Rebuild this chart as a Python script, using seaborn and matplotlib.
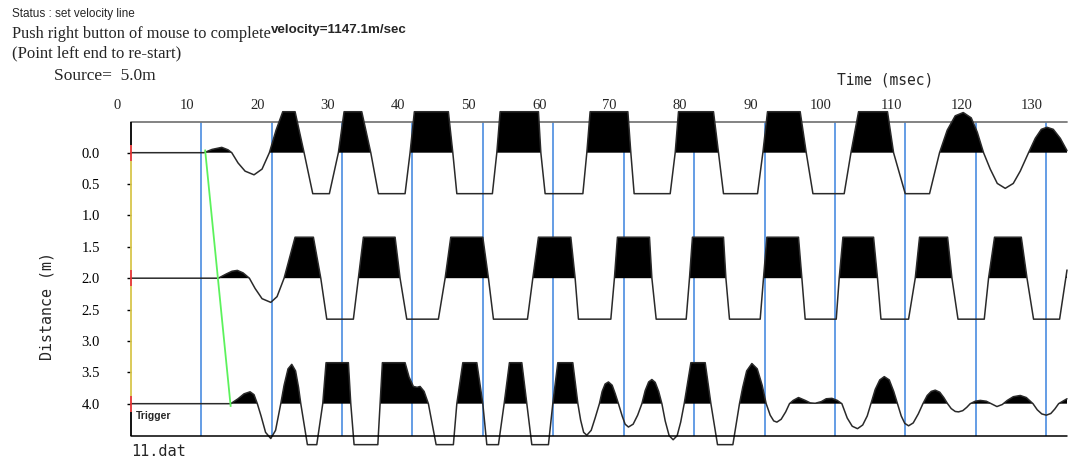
import numpy as np
import pandas as pd
import matplotlib
matplotlib.use("Agg")
import matplotlib.pyplot as plt
import seaborn as sns

# ---------------- data ----------------
trace_distances = [0.0, 2.0, 4.0]          # receiver distance (m)
trace_names = ["d0", "d2", "d4"]

# trace at 0.0 m : time (msec) / normalised amplitude (1 = clip level)
trace0_time = [2.03, 12.40, 13.54, 14.92, 15.81, 16.34,
               17.23, 18.23, 19.50, 20.64, 21.68,
               22.63, 23.58, 25.33, 26.61, 27.84, 30.20, 31.48,
               32.29, 34.80, 36.08, 37.16, 40.95, 41.66,
               42.27, 47.10, 47.73, 48.30, 53.35, 53.98,
               54.45, 59.89, 60.23, 60.84, 66.20, 66.76,
               67.23, 72.59, 73.01, 73.48, 78.60, 79.31,
               79.78, 84.75, 85.46, 86.17, 91.00, 91.76,
               92.42, 97.06, 97.92, 98.87, 103.31, 104.27,
               105.35, 109.46, 110.32, 111.98, 115.43, 116.85,
               117.94, 119.08, 120.22, 121.35, 122.21, 123.10,
               124.05, 125.05, 126.18, 127.32, 128.31, 129.49,
               130.44, 131.30, 132.11, 133.00, 134.00, 134.95]
trace0_amp = [0, 0, 0.08, 0.13, 0.07, 0,
              -0.25, -0.45, -0.54, -0.40, 0,
              0.55, 1, 1, 0, -1, -1, 0,
              1, 1, 0, -1, -1, 0,
              1, 1, 0, -1, -1, 0,
              1, 1, 0, -1, -1, 0,
              1, 1, 0, -1, -1, 0,
              1, 1, 0, -1, -1, 0,
              1, 1, 0, -1, -1, 0,
              1, 1, 0, -1, -1, 0,
              0.55, 0.90, 0.98, 0.85, 0.50, 0,
              -0.40, -0.75, -0.87, -0.75, -0.45, 0,
              0.35, 0.57, 0.62, 0.57, 0.35, 0.05]

# trace at 2.0 m
trace2_time = [2.03, 12.97, 14.43, 15.53, 16.38, 17.13, 17.94, 18.84,
               19.65, 20.64, 21.88, 22.77, 23.77,
               25.33, 27.93, 28.98, 29.83, 33.61, 34.32,
               35.03, 39.53, 40.24, 41.19, 45.68, 46.64,
               47.44, 51.99, 52.79, 53.50, 58.33, 59.09,
               59.89, 64.49, 65.10, 65.57, 70.17, 70.68,
               71.11, 75.66, 76.00, 76.61, 80.87, 81.34,
               81.76, 86.17, 86.51, 87.02, 91.38, 91.85,
               92.33, 96.82, 97.30, 97.77, 102.18, 102.60,
               103.13, 107.48, 108.04, 108.53, 112.45, 113.40,
               114.01, 117.99, 118.61, 119.47, 123.20, 123.81,
               124.66, 128.46, 129.27, 130.20, 133.90, 134.95]
trace2_amp = [0, 0, 0, 0.10, 0.17, 0.19, 0.13, 0,
              -0.25, -0.50, -0.59, -0.45, 0,
              1, 1, 0, -1, -1, 0,
              1, 1, 0, -1, -1, 0,
              1, 1, 0, -1, -1, 0,
              1, 1, 0, -1, -1, 0,
              1, 1, 0, -1, -1, 0,
              1, 1, 0, -1, -1, 0,
              1, 1, 0, -1, -1, 0,
              1, 1, 0, -1, -1, 0,
              1, 1, 0, -1, -1, 0,
              1, 1, 0, -1, -1, 0.2]

# trace at 4.0 m
trace4_time = [2.03, 16.19, 17.23, 18.08, 18.94, 19.50, 19.97,
               20.50, 21.14, 21.88, 22.56, 23.30,
               23.77, 24.33, 24.86, 25.40, 25.82, 26.14,
               27.08, 28.41, 29.26, 29.73, 32.90, 33.24,
               33.71, 37.08, 37.40, 37.73, 40.95,
               41.52, 42.13, 42.66, 43.08, 43.65, 44.26,
               45.36, 47.81, 48.30, 49.15, 51.14, 51.99,
               52.56, 54.21, 55.02, 55.77, 57.53, 58.24,
               58.95, 61.31, 61.93, 62.64, 64.77, 65.49,
               65.88, 66.31, 66.76, 67.38, 67.94, 68.55,
               68.94, 69.36, 69.83, 70.36, 70.78, 71.25,
               71.78, 72.20, 72.67, 73.34, 73.98, 74.58,
               75.05, 75.54, 76.00, 76.47, 76.96, 77.42,
               77.89, 78.45, 79.02, 79.59, 80.09, 80.59,
               81.54, 83.57, 84.38, 85.32, 87.50, 88.44,
               88.90, 89.46, 90.20, 90.96, 91.66, 92.23,
               92.80, 93.30, 93.75, 94.36, 95.00, 95.54,
               96.07, 96.82, 97.77, 98.48, 99.19, 100.05, 100.76, 101.57, 102.32, 102.98,
               103.74, 104.45, 105.20, 105.94, 106.58, 107.11,
               107.72, 108.36, 109.00, 109.71, 110.34, 110.88,
               111.41, 111.91, 112.45, 113.11, 113.83, 114.49,
               115.10, 115.67, 116.24, 116.88, 117.45, 117.99,
               118.51, 119.08, 119.55, 120.15, 120.71, 121.21,
               121.92, 122.63, 123.49, 124.19, 125.00, 125.76, 126.47, 127.32, 128.31, 129.17, 130.12,
               130.73, 131.37, 132.01, 132.65, 133.22, 133.76, 134.95]
trace4_amp = [0, 0, 0.12, 0.24, 0.29, 0.22, 0,
              -0.30, -0.70, -0.85, -0.65, 0,
              0.45, 0.85, 0.96, 0.80, 0.40, 0,
              -1, -1, 0, 1, 1, 0,
              -1, -1, 0, 1, 1,
              0.65, 0.42, 0.40, 0.42, 0.30, 0,
              -1, -1, 0, 1, 1, 0,
              -1, -1, 0, 1, 1, 0,
              -1, -1, 0, 1, 1, 0,
              -0.40, -0.70, -0.77, -0.65, -0.35, 0,
              0.30, 0.48, 0.53, 0.45, 0.25, 0,
              -0.30, -0.50, -0.57, -0.50, -0.28, 0,
              0.32, 0.53, 0.59, 0.52, 0.30, 0,
              -0.42, -0.78, -0.88, -0.78, -0.45, 0,
              1, 1, 0, -1, -1, 0,
              0.40, 0.80, 0.98, 0.85, 0.45, 0,
              -0.28, -0.42, -0.45, -0.38, -0.20, 0,
              0.08, 0.15, 0.08, 0.02, 0.01, 0.05, 0.12, 0.13, 0.08, 0,
              -0.35, -0.55, -0.61, -0.52, -0.30, 0,
              0.35, 0.58, 0.66, 0.58, 0.30, 0,
              -0.30, -0.48, -0.54, -0.47, -0.25, 0,
              0.20, 0.30, 0.33, 0.28, 0.15, 0,
              -0.12, -0.19, -0.20, -0.17, -0.09, 0,
              0.06, 0.08, 0.06, 0, -0.07, -0.02, 0.08, 0.17, 0.20, 0.15, 0,
              -0.15, -0.25, -0.28, -0.24, -0.13, 0, 0.12]

marker_times = [12, 22, 32, 42, 52, 62, 72, 82, 92, 102, 112, 122, 132]  # msec
velocity_line_time = [12.55, 16.19]       # msec
velocity_line_dist = [-0.05, 4.05]        # m
x_tick_values = [0, 10, 20, 30, 40, 50, 60, 70, 80, 90, 100, 110, 120, 130]
y_tick_values = [0.0, 0.5, 1.0, 1.5, 2.0, 2.5, 3.0, 3.5, 4.0]
source_m = 5.0
velocity_mps = 1147.1
file_name = "11.dat"

# ---------------- layout / style ----------------
W, H = 1078, 461
T_LEFT, T_RIGHT = 2.03, 134.95
D_TOP, D_BOTTOM = -0.494, 4.515
GAIN = 0.653                 # metres per unit of normalised amplitude
PX_PER_M = 62.75

sns.set_style("white")
plt.rcParams["font.family"] = ["DejaVu Sans"]

fig = plt.figure(figsize=(W / 100, H / 100), dpi=100)
ax = fig.add_axes([131 / W, 1 - 436 / H, (1067 - 131) / W, (436 - 121.7) / H])
ax.set_xlim(T_LEFT, T_RIGHT)
ax.set_ylim(D_BOTTOM, D_TOP)
for s in ax.spines.values():
    s.set_visible(False)

# blue timing lines
ax.vlines(marker_times, D_TOP, D_BOTTOM, color="#3a82de", lw=1.1, zorder=1)

# frame top (gray) - drawn below the filled wiggles
ax.plot([T_LEFT, T_RIGHT], [D_TOP, D_TOP], color="#7a7a7a", lw=1.3,
        clip_on=False, zorder=1.5)

# traces
times = [trace0_time, trace2_time, trace4_time]
amps = [trace0_amp, trace2_amp, trace4_amp]
frames = []
for name, d, t, a in zip(trace_names, trace_distances, times, amps):
    a = np.asarray(a, dtype=float)
    frames.append(pd.DataFrame({"time": t, "amp": a, "y": d - GAIN * a,
                                "base": d, "trace": name}))
df = pd.concat(frames, ignore_index=True)

for name, g in df.groupby("trace", sort=False):
    poly = ax.fill_between(g["time"], g["base"], g["y"], where=g["amp"] >= 0,
                           interpolate=True, color="black", lw=0, zorder=2)
    poly.set_clip_on(False)

n_before = len(ax.lines)
sns.lineplot(data=df, x="time", y="y", units="trace", estimator=None,
             sort=False, color="#2a2a2a", lw=1.1, legend=False, ax=ax, zorder=3)
for ln in ax.lines[n_before:]:
    ln.set_clip_on(False)

# velocity line
ax.plot(velocity_line_time, velocity_line_dist, color="#5cf25c", lw=1.3,
        zorder=4, solid_capstyle="butt")

# frame bottom (black) and left (coloured segments)
ax.plot([T_LEFT, T_RIGHT], [D_BOTTOM, D_BOTTOM], color="black", lw=1.1,
        clip_on=False, zorder=5)
segs = [(D_TOP, trace_distances[0] - 0.125, "black")]
for i, d in enumerate(trace_distances):
    segs.append((d - 0.125, d + 0.125, "#e43434"))
    if i + 1 < len(trace_distances):
        segs.append((d + 0.125, trace_distances[i + 1] - 0.125, "#d8c64c"))
segs.append((trace_distances[-1] + 0.125, D_BOTTOM, "black"))
for y0, y1, c in segs:
    ax.plot([T_LEFT, T_LEFT], [y0, y1], color=c, lw=1.3, clip_on=False,
            zorder=6, solid_capstyle="butt")

# y ticks
ax.set_xticks([])
ax.set_yticks(y_tick_values)
ax.set_yticklabels([f"{v:.1f}" for v in y_tick_values],
                   fontfamily="Liberation Serif", fontsize=10.5)
ax.tick_params(axis="y", direction="out", length=3, width=1, pad=19.5,
               colors="black", left=True)
ax.set_ylabel("")
ax.set_xlabel("")

# top time labels
for v in x_tick_values:
    ax.text(v, D_TOP - 16 / PX_PER_M, str(v), ha="center", va="center",
            fontfamily="Liberation Serif", fontsize=10.5, clip_on=False)

def ftxt(x, y, s, **kw):
    fig.text(x / W, 1 - y / H, s, **kw)

ftxt(885, 80, "Time (msec)", ha="center", va="center",
     fontfamily="DejaVu Sans Mono", fontsize=10.5)
ftxt(47.5, 306, "Distance (m)", ha="center", va="center", rotation=90,
     fontfamily="DejaVu Sans Mono", fontsize=10.8)
ftxt(131, 451, file_name, ha="left", va="center",
     fontfamily="DejaVu Sans Mono", fontsize=11)
ftxt(136, 419, "Trigger", ha="left", va="baseline",
     fontfamily="Liberation Sans", fontweight="bold", fontsize=7.5)

ftxt(12, 16.5, "Status : set velocity line", ha="left", va="baseline",
     fontfamily="Liberation Sans", fontsize=8.5)
ftxt(12, 37.5, "Push right button of mouse to complete", ha="left",
     va="baseline", fontfamily="Liberation Serif", fontsize=11.8)
ftxt(271, 33.5, f"velocity={velocity_mps:.1f}m/sec", ha="left", va="baseline",
     fontfamily="Liberation Sans", fontweight="bold", fontsize=9.6)
ftxt(12, 57, "(Point left end to re-start)", ha="left", va="baseline",
     fontfamily="Liberation Serif", fontsize=12)
ftxt(54, 80, f"Source=  {source_m:.1f}m", ha="left", va="baseline",
     fontfamily="Liberation Serif", fontsize=12.5)

fig.savefig("out.png", dpi=100, facecolor="white")
